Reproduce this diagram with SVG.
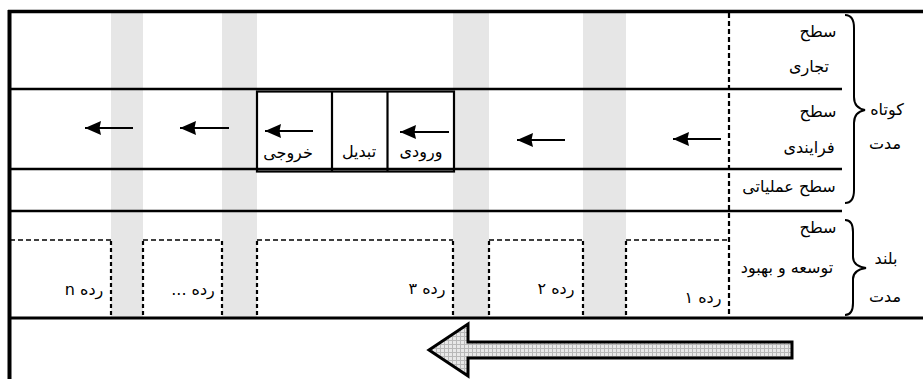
<svg xmlns="http://www.w3.org/2000/svg" width="923" height="379" viewBox="0 0 923 379">
<style>
.t{font-family:"DejaVu Sans",sans-serif;font-size:16px;fill:#000;direction:rtl;}
.band{fill:#e6e6e6;}
.thick{stroke:#000;stroke-width:3.5;fill:none;}
.mid{stroke:#000;stroke-width:2.6;fill:none;}
.box{stroke:#000;stroke-width:2.2;fill:none;}
.dv{stroke:#000;stroke-width:2.2;fill:none;stroke-dasharray:4 3;}
.dh{stroke:#000;stroke-width:1.6;fill:none;stroke-dasharray:5 3;}
.arr{stroke:#000;stroke-width:2.2;fill:none;marker-end:url(#ah);}
.brace{stroke:#000;stroke-width:2;fill:none;}
</style>
<defs>
<marker id="ah" viewBox="0 0 16 14" refX="16" refY="7" markerWidth="16" markerHeight="14" markerUnits="userSpaceOnUse" orient="auto">
<path d="M0,0 L16,7 L0,14 L1.5,7 z" fill="#000"/>
</marker>
<pattern id="hatch" width="4" height="4" patternUnits="userSpaceOnUse">
<rect width="4" height="4" fill="#e8e8e8"/>
<path d="M0,0.5 H4 M0.5,0 V4" stroke="#b8b8b8" stroke-width="1"/>
</pattern>
</defs>
<rect width="923" height="379" fill="#fff"/>
<g id="bands">
<rect class="band" x="111" y="13" width="32" height="305"/>
<rect class="band" x="222" y="13" width="35" height="305"/>
<rect class="band" x="453" y="13" width="36" height="305"/>
<rect class="band" x="583" y="13" width="43" height="305"/>
</g>
<g id="frame">
<line class="thick" x1="8" y1="11.5" x2="923" y2="11.5"/>
<line class="thick" x1="9.5" y1="10" x2="9.5" y2="379" style="stroke-width:4"/>
<line class="mid" x1="10" y1="89" x2="842" y2="89"/>
<line class="mid" x1="10" y1="169" x2="842" y2="169"/>
<line class="mid" x1="10" y1="211" x2="842" y2="211"/>
<line class="thick" x1="10" y1="318" x2="923" y2="318" style="stroke-width:3"/>
<line class="dv" x1="729" y1="13" x2="729" y2="317" style="stroke-dasharray:5 3"/>
</g>
<g id="process-box">
<rect class="box" x="257" y="91.5" width="197" height="80"/>
<line class="box" x1="332" y1="91.5" x2="332" y2="171.5"/>
<line class="box" x1="387.5" y1="91.5" x2="387.5" y2="171.5"/>
<text class="t" x="288" y="158" text-anchor="middle">خروجی</text>
<text class="t" x="359" y="157" text-anchor="middle">تبدیل</text>
<text class="t" x="421" y="157" text-anchor="middle">ورودی</text>
</g>
<g id="rows">
<path class="dh" d="M10,240 H111 M143,240 H222 M257,240 H453 M489,240 H583 M626,240 H729"/>
<path class="dv" d="M111,241 V317 M143,241 V317 M222,241 V317 M257,241 V317 M453,241 V317 M489,241 V317 M583,241 V317 M626,241 V317"/>
<text class="t" x="84" y="295" text-anchor="middle">رده n</text>
<text class="t" x="193" y="295" text-anchor="middle">رده ...</text>
<text class="t" x="427" y="294" text-anchor="middle">رده ۳</text>
<text class="t" x="556" y="294" text-anchor="middle">رده ۲</text>
<text class="t" x="703" y="303" text-anchor="middle">رده ۱</text>
</g>
<g id="levels">
<text class="t" x="818" y="37" text-anchor="middle">سطح</text>
<text class="t" x="809" y="72" text-anchor="middle">تجاری</text>
<text class="t" x="818" y="117" text-anchor="middle">سطح</text>
<text class="t" x="809" y="153" text-anchor="middle">فرایندی</text>
<text class="t" x="789" y="192" text-anchor="middle">سطح عملیاتی</text>
<text class="t" x="818" y="233" text-anchor="middle">سطح</text>
<text class="t" x="787" y="273" text-anchor="middle">توسعه و بهبود</text>
</g>
<g id="short-term">
<path class="brace" d="M845,15 Q854,15 854,28 V97 Q854,108 865,110 Q854,112 854,123 V190 Q854,203 845,203"/>
<text class="t" x="887" y="115" text-anchor="middle">کوتاه</text>
<text class="t" x="885" y="149" text-anchor="middle">مدت</text>
</g>
<g id="long-term">
<path class="brace" d="M845,220 Q853,220 853,232 V257 Q853,266 866,268 Q853,270 853,279 V303 Q853,315 845,315"/>
<text class="t" x="886" y="264" text-anchor="middle">بلند</text>
<text class="t" x="885" y="302" text-anchor="middle">مدت</text>
</g>
<g id="connectors">
<line class="arr" x1="133" y1="128" x2="85" y2="128"/>
<line class="arr" x1="229" y1="128" x2="180" y2="128"/>
<line class="arr" x1="313" y1="131" x2="265" y2="131"/>
<line class="arr" x1="449" y1="132" x2="400" y2="132"/>
<line class="arr" x1="565" y1="140" x2="517" y2="140"/>
<line class="arr" x1="721" y1="139" x2="673" y2="139"/>
<path id="big-arrow" d="M429,350 L468,324 L468,342 L792,342 L792,358 L468,358 L468,376 Z" fill="url(#hatch)" stroke="#000" stroke-width="3" stroke-linejoin="miter"/>
</g>
</svg>
